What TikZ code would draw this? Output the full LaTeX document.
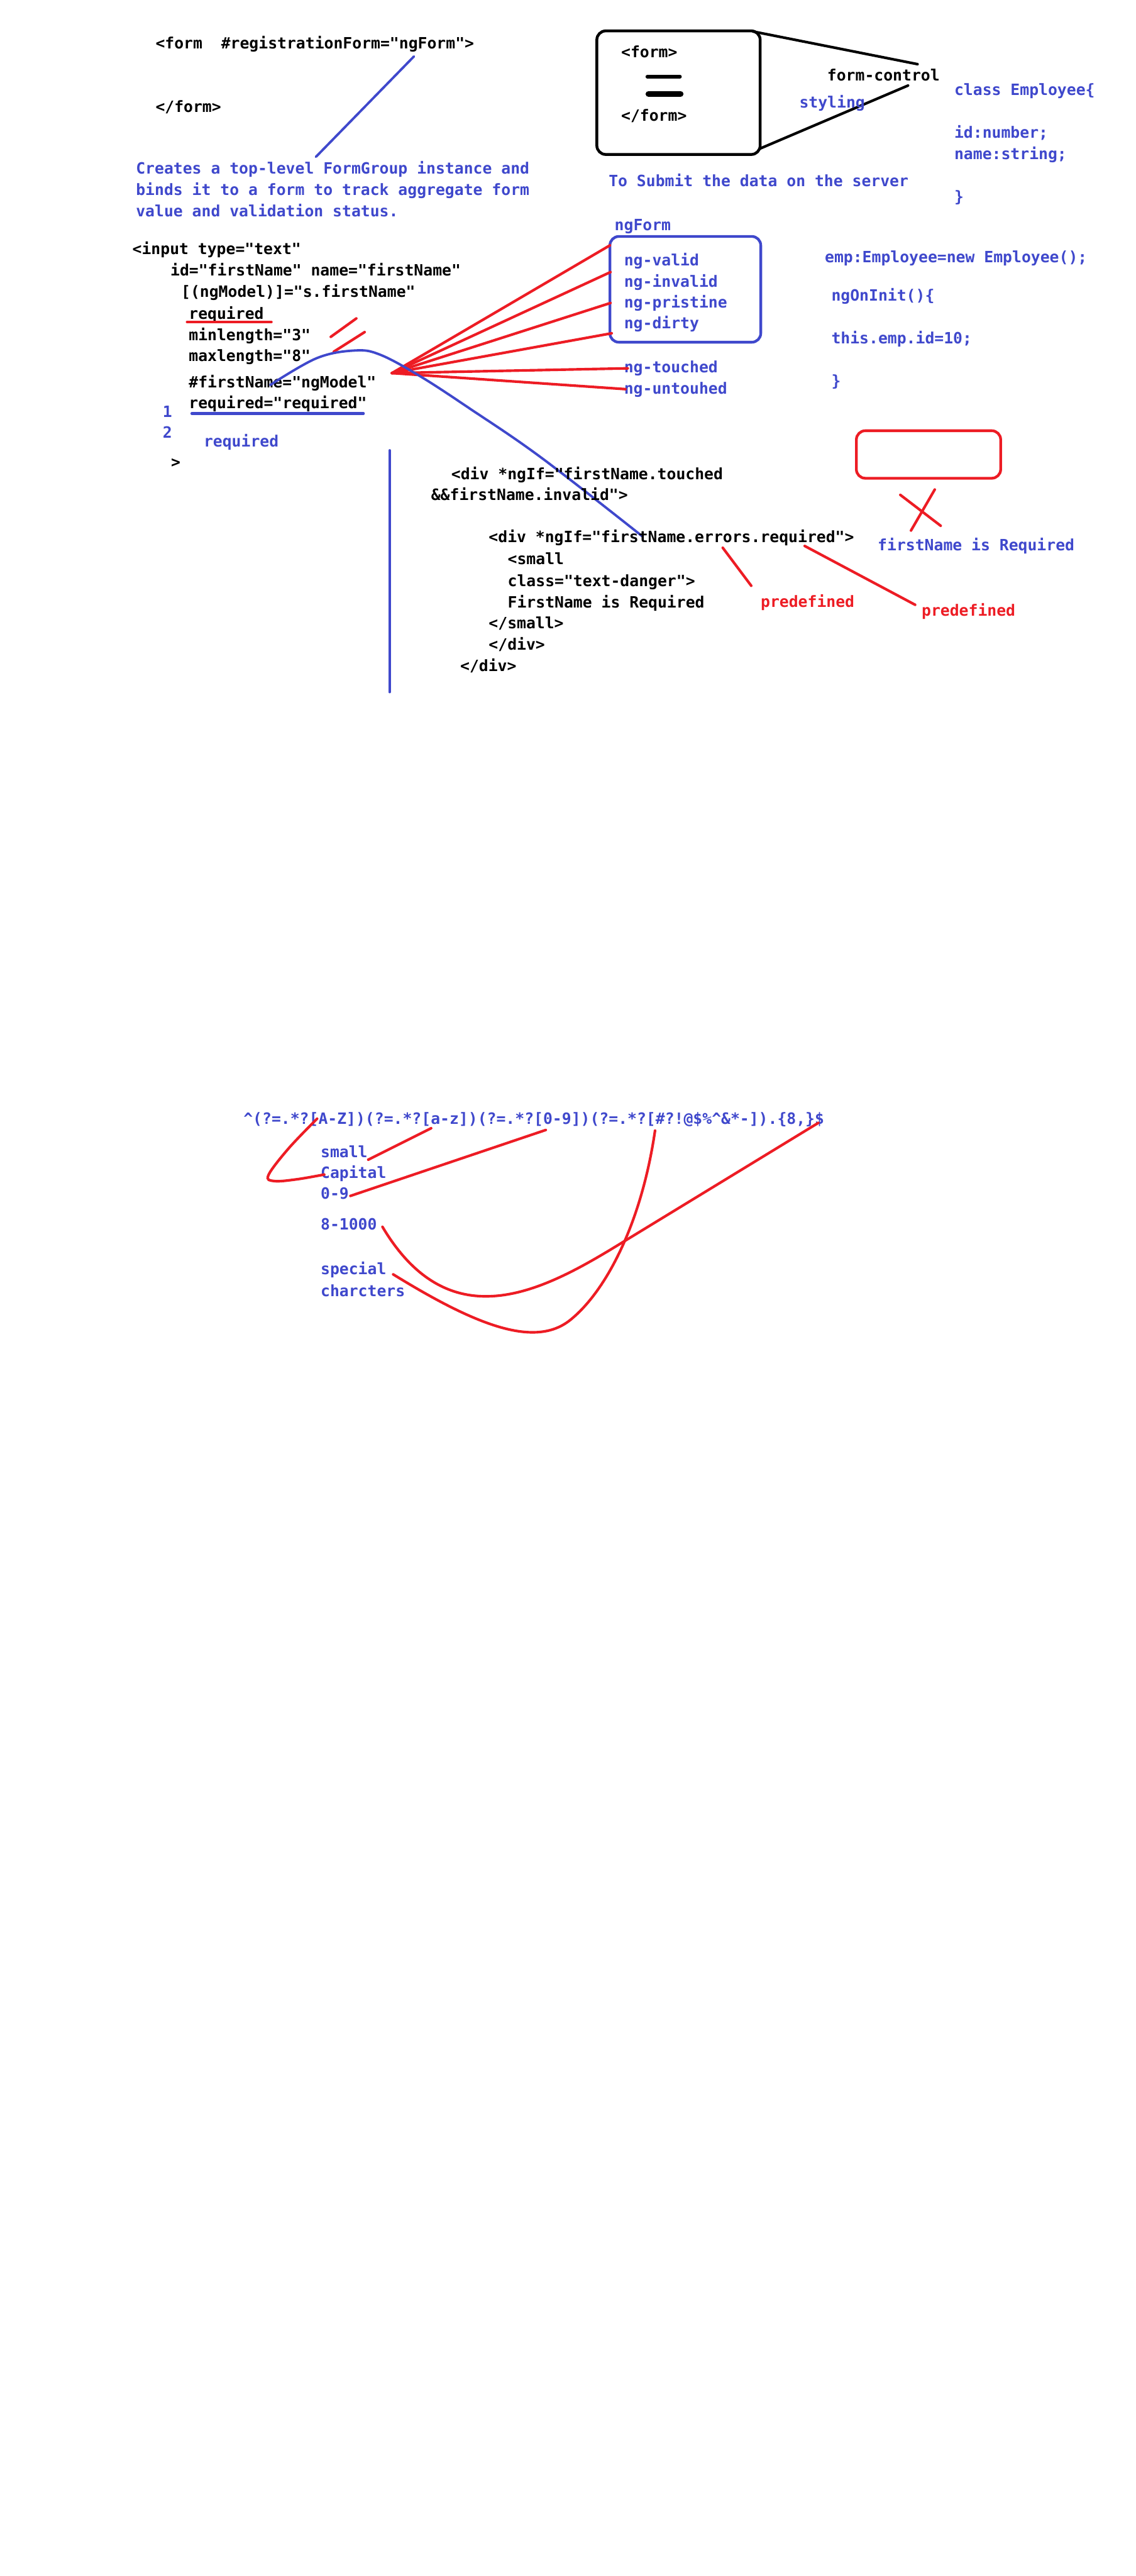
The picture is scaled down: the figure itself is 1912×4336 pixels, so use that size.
\documentclass[tikz,border=0pt]{standalone}
\usepackage{fontspec}
\newfontfamily\cf{DejaVu Sans Mono}
\newcommand\codefont{\cf\bfseries\fontsize{7.45pt}{9pt}\selectfont}
\definecolor{myblue}{HTML}{3F48CC}
\definecolor{myred}{HTML}{ED1C24}
\tikzset{
  txt/.style={inner sep=0pt, outer sep=0pt, anchor=base west, font=\codefont},
  blk/.style={txt, text=black},
  blu/.style={txt, text=myblue},
  redt/.style={txt, text=myred},
  redl/.style={draw=myred, line width=1.25pt, line cap=round},
  blul/.style={draw=myblue, line width=1.15pt, line cap=round},
  blkl/.style={draw=black, line width=1.25pt, line cap=round},
}
\begin{document}
\begin{tikzpicture}[x=0.01cm, y=-0.01cm]
\useasboundingbox (0,0) rectangle (1912,4336);
\fill[white] (0,0) rectangle (1912,4336);

% ---- top left form
\node[blk] (f1) at (262,82) {<form\ \ \#registrationForm="ngForm">};
\node[blk] (f2) at (262,189) {</form>};
\coordinate (bl1a) at (697,95);
\coordinate (bl1b) at (532,264);
\draw[blul] (bl1a) -- (bl1b);
\node[blu] (c1) at (229,293) {Creates a top-level FormGroup instance and};
\node[blu] (c2) at (229,329) {binds it to a form to track aggregate form};
\node[blu] (c3) at (229,365) {value and validation status.};

% ---- form box
\draw[black, line width=1.35pt, rounded corners=0.15cm] (1005,52) rectangle (1280,260);
\node[blk] (b1) at (1046,97) {<form>};
\node[blk] (b2) at (1046,204) {</form>};
\draw[black, line width=1.7pt, line cap=round] (1090,129) -- (1145,129);
\draw[black, line width=2.8pt, line cap=round] (1092,158) -- (1146,158);
\coordinate (k1a) at (1268,53);
\coordinate (k1b) at (1545,108);
\coordinate (k2a) at (1280,250);
\coordinate (k2b) at (1529,144);
\draw[blkl] (k1a) -- (k1b);
\draw[blkl] (k2a) -- (k2b);
\node[blk] (fc) at (1393,136) {form-control};
\node[blu] (sty) at (1346,182) {styling};
\node[blu] (sub) at (1025,314) {To Submit the data on the server};

% ---- class Employee
\node[blu] (e1) at (1607,160) {class Employee\{};
\node[blu] (e2) at (1607,232) {id:number;};
\node[blu] (e3) at (1607,268) {name:string;};
\node[blu] (e4) at (1607,340) {\}};

% ---- input element
\node[blk] (i1) at (223,428) {<input type="text"};
\node[blk] (i2) at (287,464) {id="firstName" name="firstName"};
\node[blk] (i3) at (305,500) {[(ngModel)]="s.firstName"};
\node[blk] (i4) at (318,537) {required};
\node[blk] (i5) at (318,573) {minlength="3"};
\node[blk] (i6) at (318,608) {maxlength="8"};
\node[blk] (i7) at (318,653) {\#firstName="ngModel"};
\node[blk] (i8) at (318,688) {required="required"};
\node[blk] (i9) at (288,787) {>};
\node[blu] (n1) at (274,702) {1};
\node[blu] (n2) at (274,737) {2};
\node[blu] (rq) at (343,752) {required};
\coordinate (ru1) at (315,542);
\coordinate (ru2) at (457,542);
\draw[redl] (ru1) -- (ru2);
\coordinate (bu1) at (323,696);
\coordinate (bu2) at (612,696);
\draw[blul, line width=1.3pt] (bu1) -- (bu2);
\coordinate (s1a) at (557,567);
\coordinate (s1b) at (600,536);
\coordinate (s2a) at (562,592);
\coordinate (s2b) at (614,559);
\draw[redl] (s1a) -- (s1b);
\draw[redl] (s2a) -- (s2b);

% ---- ngForm box
\node[blu] (ngf) at (1035,388) {ngForm};
\draw[myblue, line width=1.3pt, rounded corners=0.15cm] (1027,398) rectangle (1281,576);
\node[blu] (g1) at (1051,447) {ng-valid};
\node[blu] (g2) at (1051,483) {ng-invalid};
\node[blu] (g3) at (1051,518) {ng-pristine};
\node[blu] (g4) at (1051,553) {ng-dirty};
\node[blu] (g5) at (1051,627) {ng-touched};
\node[blu] (g6) at (1051,663) {ng-untouhed};

% ---- red fan
\coordinate (fanv) at (660,628);
\coordinate (fe1) at (1027,413);
\coordinate (fe2) at (1028,458);
\coordinate (fe3) at (1028,510);
\coordinate (fe4) at (1030,561);
\coordinate (fe5) at (1057,620);
\coordinate (fe6) at (1053,655);
\foreach \e in {fe1,fe2,fe3,fe4,fe5,fe6} \draw[redl] (fanv) -- (\e);

% ---- blue curve and vertical
\draw[blul] plot[smooth, tension=0.6] coordinates {(455,648) (533,603) (597,590) (640,597) (707,633) (790,687) (911,770) (1082,903)};
\coordinate (bv1) at (656,758);
\coordinate (bv2) at (656,1165);
\draw[blul] (bv1) -- (bv2);

% ---- emp
\node[blu] (m1) at (1389,442) {emp:Employee=new Employee();};
\node[blu] (m2) at (1400,507) {ngOnInit()\{};
\node[blu] (m3) at (1400,578) {this.emp.id=10;};
\node[blu] (m4) at (1400,650) {\}};

% ---- div
\node[blk] (d1) at (760,807) {<div *ngIf="firstName.touched};
\node[blk] (d2) at (726,842) {\&\&firstName.invalid">};
\node[blk] (d3) at (823,913) {<div *ngIf="firstName.errors.required">};
\node[blk] (d4) at (855,950) {<small};
\node[blk] (d5) at (855,987) {class="text-danger">};
\node[blk] (d6) at (855,1023) {FirstName is Required};
\node[blk] (d7) at (823,1058) {</small>};
\node[blk] (d8) at (823,1094) {</div>};
\node[blk] (d9) at (775,1130) {</div>};

% ---- red box, X, predefined
\draw[myred, line width=1.3pt, rounded corners=0.15cm] (1442,725) rectangle (1685,805);
\coordinate (x1a) at (1516,833);
\coordinate (x1b) at (1584,885);
\coordinate (x2a) at (1574,824);
\coordinate (x2b) at (1534,893);
\draw[redl] (x1a) -- (x1b);
\draw[redl] (x2a) -- (x2b);
\node[blu] (fr) at (1478,927) {firstName is Required};
\node[redt] (p1) at (1281,1022) {predefined};
\node[redt] (p2) at (1552,1037) {predefined};
\coordinate (pl1a) at (1217,922);
\coordinate (pl1b) at (1265,986);
\coordinate (pl2a) at (1355,919);
\coordinate (pl2b) at (1541,1018);
\draw[redl] (pl1a) -- (pl1b);
\draw[redl] (pl2a) -- (pl2b);

% ---- regex
\node[blu] (rx) at (410,1892) {\textasciicircum(?=.*?[A-Z])(?=.*?[a-z])(?=.*?[0-9])(?=.*?[\#?!@\$\%\textasciicircum\&*-]).\{8,\}\$};
\node[blu] (r1) at (540,1948) {small};
\node[blu] (r2) at (540,1983) {Capital};
\node[blu] (r3) at (540,2018) {0-9};
\node[blu] (r4) at (540,2070) {8-1000};
\node[blu] (r5) at (540,2145) {special};
\node[blu] (r6) at (540,2182) {charcters};
\draw[redl] plot[smooth, tension=0.6] coordinates {(534,1883) (486,1933) (452,1978) (462,1988) (500,1985) (546,1977)};
\draw[redl] (726,1899) -- (620,1952);
\draw[redl] (919,1902) -- (590,2013);
\draw[redl] (644,2065) .. controls (760,2260) and (920,2170) .. (1050,2090) -- (1378,1890);
\draw[redl] (662,2145) .. controls (800,2230) and (900,2270) .. (960,2222) .. controls (1020,2174) and (1080,2060) .. (1103,1903);
\end{tikzpicture}
\end{document}
